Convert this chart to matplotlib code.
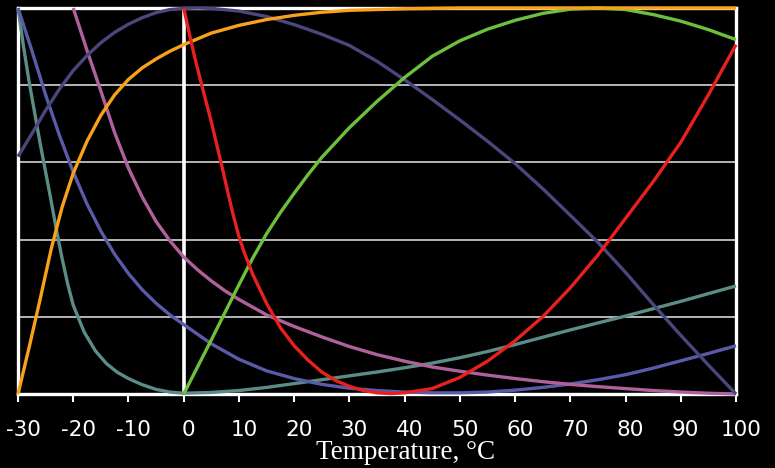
import matplotlib
matplotlib.use("Agg")
import matplotlib.pyplot as plt
import matplotlib.transforms as mtransforms

# ---- data ----
orange_t = [-30, -28, -26, -24, -22, -20, -17.5, -15, -12.5, -10, -7.5, -5, -2.5, 0, 5, 10, 15, 20, 25, 30, 40, 50, 60, 70, 80, 90, 100]
orange_v = [0, 0.12, 0.245, 0.375, 0.485, 0.572, 0.655, 0.722, 0.775, 0.815, 0.845, 0.868, 0.888, 0.905, 0.935, 0.955, 0.97, 0.981, 0.989, 0.994, 0.998, 1, 1, 1, 1, 1, 1]

slate_t = [-30, -27.5, -25, -22.5, -20, -17.5, -15, -12.5, -10, -7.5, -5, -2.5, 0, 2.5, 5, 10, 15, 20, 25, 30, 35, 40, 45, 50, 55, 60, 65, 70, 75, 80, 85, 90, 95, 100]
slate_v = [0.615, 0.674, 0.735, 0.79, 0.838, 0.877, 0.91, 0.937, 0.958, 0.975, 0.988, 0.996, 0.999, 1.0, 0.999, 0.992, 0.978, 0.957, 0.932, 0.903, 0.862, 0.814, 0.763, 0.71, 0.655, 0.597, 0.532, 0.463, 0.393, 0.315, 0.232, 0.152, 0.075, 0.0]

red_t = [0, 1, 2, 3, 4, 5, 6, 7, 8, 9, 10, 11, 12.5, 15, 17.5, 20, 22.5, 25, 27.5, 30, 32.5, 35, 37.5, 40, 45, 50, 55, 60, 65, 70, 75, 80, 85, 90, 95, 100]
red_v = [1.0, 0.935, 0.872, 0.815, 0.76, 0.705, 0.645, 0.585, 0.522, 0.462, 0.408, 0.365, 0.31, 0.235, 0.172, 0.125, 0.088, 0.057, 0.035, 0.02, 0.009, 0.003, 0.001, 0.003, 0.014, 0.043, 0.085, 0.138, 0.2, 0.275, 0.36, 0.455, 0.55, 0.652, 0.775, 0.905]

green_t = [0, 2.5, 5, 7.5, 10, 12.5, 15, 17.5, 20, 22.5, 25, 30, 35, 40, 45, 50, 55, 60, 65, 70, 75, 80, 85, 90, 95, 100]
green_v = [0, 0.07, 0.14, 0.212, 0.283, 0.352, 0.415, 0.47, 0.52, 0.568, 0.613, 0.69, 0.758, 0.82, 0.875, 0.915, 0.945, 0.968, 0.986, 0.997, 1.0, 0.996, 0.983, 0.966, 0.944, 0.918]

pink_t = [-20, -17.5, -15, -12.5, -10, -7.5, -5, -2.5, 0, 2.5, 5, 7.5, 10, 15, 20, 25, 30, 35, 40, 45, 50, 55, 60, 65, 70, 75, 80, 85, 90, 95, 100]
pink_v = [1.0, 0.89, 0.785, 0.677, 0.585, 0.51, 0.447, 0.397, 0.355, 0.322, 0.293, 0.267, 0.245, 0.205, 0.175, 0.148, 0.123, 0.102, 0.085, 0.07, 0.059, 0.049, 0.04, 0.032, 0.025, 0.019, 0.014, 0.009, 0.005, 0.002, 0.0]

blue_t = [-30, -27.5, -25, -22.5, -20, -17.5, -15, -12.5, -10, -7.5, -5, -2.5, 0, 5, 10, 15, 20, 25, 30, 35, 40, 45, 50, 55, 60, 65, 70, 75, 80, 85, 90, 95, 100]
blue_v = [1.0, 0.89, 0.775, 0.67, 0.575, 0.492, 0.422, 0.362, 0.312, 0.27, 0.235, 0.205, 0.18, 0.13, 0.09, 0.06, 0.04, 0.025, 0.015, 0.009, 0.005, 0.003, 0.003, 0.005, 0.01, 0.017, 0.026, 0.037, 0.05, 0.067, 0.086, 0.105, 0.125]

teal_t = [-30, -29, -28, -27, -26, -25, -24, -23, -22, -21, -20, -18, -16, -14, -12, -10, -7.5, -5, -2.5, 0, 5, 10, 15, 20, 25, 30, 35, 40, 45, 50, 55, 60, 65, 70, 75, 80, 85, 90, 95, 100]
teal_v = [1.0, 0.9, 0.81, 0.73, 0.65, 0.575, 0.5, 0.422, 0.35, 0.285, 0.23, 0.16, 0.112, 0.079, 0.056, 0.04, 0.024, 0.012, 0.005, 0.002, 0.004, 0.009, 0.017, 0.027, 0.037, 0.047, 0.057, 0.068, 0.08, 0.094, 0.11, 0.128, 0.147, 0.166, 0.184, 0.202, 0.221, 0.24, 0.26, 0.28]

x_ticks = [-30, -20, -10, 0, 10, 20, 30, 40, 50, 60, 70, 80, 90, 100]
x_tick_labels = ["-30", "-20", "-10", "0", "10", "20", "30", "40", "50", "60", "70", "80", "90", "100"]
y_grid = [0.2, 0.4, 0.6, 0.8]
x_label = "Temperature, \u00b0C"

series = [
    (teal_t, teal_v, "#5b8c85"),
    (blue_t, blue_v, "#5a5aa8"),
    (pink_t, pink_v, "#b0619d"),
    (slate_t, slate_v, "#4a477c"),
    (green_t, green_v, "#6cc03e"),
    (orange_t, orange_v, "#f9a11b"),
    (red_t, red_v, "#e8211e"),
]

# ---- figure ----
fig = plt.figure(figsize=(7.75, 4.68), dpi=100, facecolor="black")
ax = fig.add_axes([18 / 775, 1 - 394 / 468, (736 - 18) / 775, (394 - 8) / 468])
ax.set_facecolor("black")

for yv in y_grid:
    ax.axhline(yv, color="#c4c4c4", lw=1.3, zorder=1)
ax.axvline(0, color="white", lw=2.6, zorder=1.5)

for t, v, c in series:
    ax.plot(t, v, color=c, lw=2.4, zorder=3, clip_on=False,
            solid_capstyle="butt", solid_joinstyle="round")

ax.set_xlim(-30, 100)
ax.set_ylim(0, 1)
ax.set_yticks([])
ax.set_xticks(x_ticks, labels=x_tick_labels)
ax.tick_params(axis="x", colors="white", direction="out", length=6, width=1.5,
               labelsize=15.5, pad=12.5)
shift = mtransforms.ScaledTranslation(5 / 100, 0, fig.dpi_scale_trans)
for lab in ax.get_xticklabels():
    lab.set_family("DejaVu Sans")
    lab.set_transform(lab.get_transform() + shift)
for s in ax.spines.values():
    s.set_color("white")
    s.set_linewidth(2.4)
    s.set_zorder(2.5)

fig.text(406 / 775, 1 - 459 / 468, x_label, color="white", fontsize=19.5,
         family="Liberation Serif", ha="center", va="baseline")

fig.savefig("out.png", dpi=100, facecolor="black")
